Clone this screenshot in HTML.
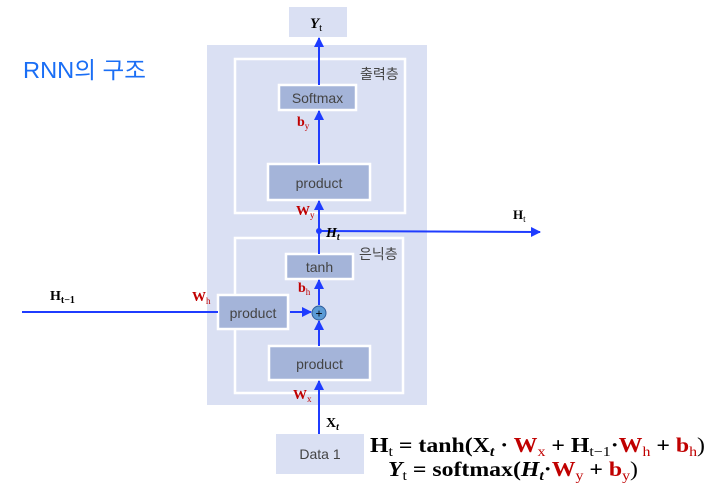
<!DOCTYPE html>
<html><head><meta charset="utf-8"><style>
body{margin:0;background:#fff;width:708px;height:490px;overflow:hidden}
svg{display:block}
.lbl{font-family:"Liberation Sans","Noto Sans CJK KR",sans-serif;fill:#444;font-size:14px}
.m{font-family:"Liberation Serif",serif;font-weight:bold}
.r{fill:#c00000}
</style></head><body>
<svg width="708" height="490" viewBox="0 0 708 490">
<defs><marker id="ah" viewBox="0 0 10 10" refX="9" refY="5" markerWidth="5" markerHeight="5" orient="auto"><path d="M0,0L10,5L0,10z" fill="#1f3cff"/></marker></defs>
<text x="23" y="78" font-family="'Liberation Sans','Noto Sans CJK KR',sans-serif" font-size="23" fill="#1a6ef5" textLength="123" lengthAdjust="spacingAndGlyphs">RNN의 구조</text>
<rect x="207" y="45" width="220" height="360" fill="#dae0f3"/>
<rect x="235" y="59" width="170" height="154" fill="none" stroke="#fff" stroke-width="2.5"/>
<text x="360" y="79" class="lbl" font-size="13">출력층</text>
<rect x="235" y="238" width="168" height="155" fill="none" stroke="#fff" stroke-width="2.5"/>
<text x="359" y="259" class="lbl" font-size="13">은닉층</text>
<rect x="289" y="7" width="58" height="30" fill="#dae0f3"/>
<text x="310" y="28" class="m" font-size="15" font-style="italic">Y<tspan font-style="normal" font-weight="normal" font-size="11" dy="3">t</tspan></text>
<rect x="279" y="85" width="77" height="25" fill="#a4b4d9" stroke="#fff" stroke-width="2.5"/>
<text x="317.5" y="103" class="lbl" text-anchor="middle">Softmax</text>
<rect x="268" y="164" width="102" height="36" fill="#a4b4d9" stroke="#fff" stroke-width="2.5"/>
<text x="319" y="188" class="lbl" text-anchor="middle">product</text>
<rect x="286" y="254" width="67" height="25" fill="#a4b4d9" stroke="#fff" stroke-width="2.5"/>
<text x="319.5" y="272" class="lbl" text-anchor="middle">tanh</text>
<rect x="218" y="295" width="70" height="34" fill="#a4b4d9" stroke="#fff" stroke-width="2.5"/>
<text x="253" y="318" class="lbl" text-anchor="middle">product</text>
<rect x="269" y="346" width="101" height="34" fill="#a4b4d9" stroke="#fff" stroke-width="2.5"/>
<text x="319.5" y="369" class="lbl" text-anchor="middle">product</text>
<rect x="276" y="434" width="88" height="40" fill="#dae0f3"/>
<text x="320" y="459" class="lbl" text-anchor="middle">Data 1</text>
<g stroke="#1f3cff" stroke-width="2" fill="none">
<line x1="319" y1="434" x2="319" y2="381" marker-end="url(#ah)"/>
<line x1="319" y1="346" x2="319" y2="321" marker-end="url(#ah)"/>
<line x1="290" y1="312" x2="311" y2="312" marker-end="url(#ah)"/>
<line x1="319" y1="305" x2="319" y2="280" marker-end="url(#ah)"/>
<line x1="319" y1="254" x2="319" y2="201" marker-end="url(#ah)"/>
<line x1="319" y1="164" x2="319" y2="111" marker-end="url(#ah)"/>
<line x1="319" y1="85" x2="319" y2="38" marker-end="url(#ah)"/>
<line x1="319" y1="231" x2="540" y2="232" marker-end="url(#ah)"/>
<line x1="22" y1="312" x2="218" y2="312"/>
</g>
<circle cx="319" cy="231" r="3" fill="#1f3cff"/>
<circle cx="319" cy="313" r="7" fill="#5b9bd5" stroke="#2e5c9a" stroke-width="1"/>
<text x="319" y="317.5" text-anchor="middle" font-size="12" font-family="Liberation Sans,sans-serif">+</text>
<text x="326" y="237" class="m" font-style="italic" font-size="14">H<tspan font-size="10" dy="3">t</tspan></text>
<text x="513" y="219" class="m" font-size="13">H<tspan font-size="9" dy="3" font-weight="normal">t</tspan></text>
<text x="50" y="300" class="m" font-size="14">H<tspan font-size="10" dy="3">t−1</tspan></text>
<text x="192" y="301" class="m r" font-size="14">W<tspan font-size="9" dy="3" font-weight="normal">h</tspan></text>
<text x="297" y="126" class="m r" font-size="14">b<tspan font-size="9" dy="3" font-weight="normal">y</tspan></text>
<text x="296" y="215" class="m r" font-size="14">W<tspan font-size="9" dy="3" font-weight="normal">y</tspan></text>
<text x="298" y="292" class="m r" font-size="14">b<tspan font-size="9" dy="3" font-weight="normal">h</tspan></text>
<text x="293" y="399" class="m r" font-size="14">W<tspan font-size="9" dy="3" font-weight="normal">x</tspan></text>
<text x="326" y="427" class="m" font-size="14">X<tspan font-size="10" dy="3" font-style="italic">t</tspan></text>
<text x="370" y="452" class="m" font-size="21" textLength="335" lengthAdjust="spacingAndGlyphs">H<tspan font-size="14" font-weight="normal" dy="4">t</tspan><tspan dy="-4"> = tanh(X</tspan><tspan font-size="14" font-style="italic" dy="4">t</tspan><tspan dy="-4"> · </tspan><tspan class="r">W</tspan><tspan class="r" font-size="14" font-weight="normal" dy="4">x</tspan><tspan dy="-4">  + H</tspan><tspan font-size="14" font-weight="normal" dy="4">t−1</tspan><tspan dy="-4">·</tspan><tspan class="r">W</tspan><tspan class="r" font-size="14" font-weight="normal" dy="4">h</tspan><tspan dy="-4"> +  </tspan><tspan class="r">b</tspan><tspan class="r" font-size="14" font-weight="normal" dy="4">h</tspan><tspan font-weight="normal" dy="-4">)</tspan></text>
<text x="388" y="476" class="m" font-size="21" textLength="250" lengthAdjust="spacingAndGlyphs"><tspan font-style="italic">Y</tspan><tspan font-size="14" font-weight="normal" dy="4">t</tspan><tspan dy="-4"> = softmax(</tspan><tspan font-style="italic">H</tspan><tspan font-size="14" font-style="italic" dy="4">t</tspan><tspan dy="-4">·</tspan><tspan class="r">W</tspan><tspan class="r" font-size="14" font-weight="normal" dy="4">y</tspan><tspan dy="-4"> + </tspan><tspan class="r">b</tspan><tspan class="r" font-size="14" font-weight="normal" dy="4">y</tspan><tspan font-weight="normal" dy="-4">)</tspan></text>
</svg>
</body></html>
